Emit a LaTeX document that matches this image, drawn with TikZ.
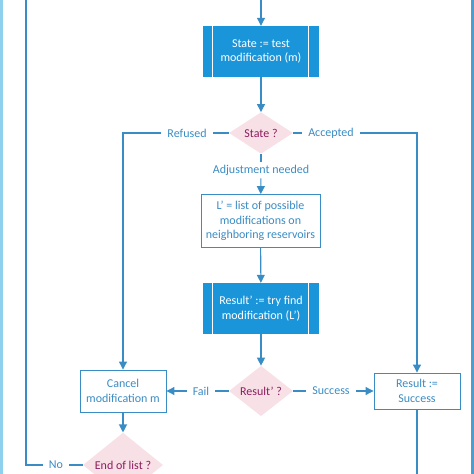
\documentclass[tikz,border=0pt]{standalone}
\usepackage{fontspec}
\setmainfont{Carlito}
\usetikzlibrary{arrows.meta,shapes.geometric}
\definecolor{flowblue}{HTML}{3A8CC4}
\definecolor{boxblue}{HTML}{1B95DA}
\definecolor{decfill}{HTML}{F8E0E7}
\definecolor{dectext}{HTML}{8C1D5E}
\definecolor{edgeblue}{HTML}{8FD0EE}
\definecolor{barblue}{HTML}{4A9FD0}

\begin{document}
\begin{tikzpicture}[x=1pt,y=-1pt,font=\fontsize{12}{14.5}\selectfont,
  line/.style={flowblue,line width=1.1pt},
  arr/.style={line,-{Triangle[width=8pt,length=8pt]}},
  proc/.style={fill=boxblue,text=white,minimum width=116pt,minimum height=51pt,align=center,inner sep=0pt},
  plain/.style={draw=flowblue,fill=white,text=flowblue,align=center,line width=0.9pt,inner sep=0pt},
  dec/.style={diamond,fill=decfill,text=dectext,inner sep=0pt,minimum width=64pt,minimum height=40pt},
  lbl/.style={text=flowblue,inner xsep=6pt,inner ysep=3pt}]

\useasboundingbox (0,0) rectangle (474,474);
\fill[edgeblue] (0,0) rectangle (2.5,474);
\fill[barblue] (471,0) rectangle (474,474);

\coordinate (top) at (261,0);
\coordinate (lefttop) at (26,0);
\coordinate (rbot) at (417,474);

\node[proc] (s1) at (261,51.5) {State := test\\modification (m)};
\node[dec] (d1) at (261,133) {State ?};
\node[lbl] (ladj) at (261,170) {Adjustment needed};
\node[plain,minimum width=119pt,minimum height=53pt] (lst) at (260.5,221) {L’ = list of possible\\modifications on\\neighboring reservoirs};
\node[proc] (s2) at (261,308.5) {Result’ := try find\\modification (L’)};
\node[dec] (d2) at (261,391) {Result’ ?};
\node[plain,minimum width=86pt,minimum height=42pt] (cancel) at (123,391) {Cancel\\modification m};
\node[plain,minimum width=86pt,minimum height=36pt] (succ) at (417,391) {Result :=\\Success};
\node[dec,minimum width=80pt] (d3) at (123,465) {End of list ?};

\node[lbl] (lref) at (187,133) {Refused};
\node[lbl] (lacc) at (331,133) {Accepted};
\node[lbl] (lfail) at (201,391) {Fail};
\node[lbl] (lsucc) at (331,391) {Success};
\node[lbl] (lno) at (56,465) {No};

\foreach \n in {s1,s2}
{
\draw[white,line width=1.2pt] ([xshift=10pt]\n.north west) -- ([xshift=10pt]\n.south west)
  ([xshift=-11pt]\n.north east) -- ([xshift=-11pt]\n.south east);
}

\draw[arr] (top) -- (s1);
\draw[arr] (s1) -- (d1);
\draw[line] (d1) -- (ladj);
\draw[arr] (ladj) -- (lst);
\draw[arr] (lst) -- (s2);
\draw[arr] (s2) -- (d2);
\draw[line] (d1) -- (lref);
\draw[arr] (lref) -| (cancel);
\draw[line] (d1) -- (lacc);
\draw[arr] (lacc) -| (succ);
\draw[line] (d2) -- (lfail);
\draw[arr] (lfail) -- (cancel);
\draw[line] (d2) -- (lsucc);
\draw[arr] (lsucc) -- (succ);
\draw[arr] (cancel) -- (d3);
\draw[line] (d3) -- (lno);
\draw[line] (lno) -| (lefttop);
\draw[line] (succ) -- (rbot);
\end{tikzpicture}
\end{document}
